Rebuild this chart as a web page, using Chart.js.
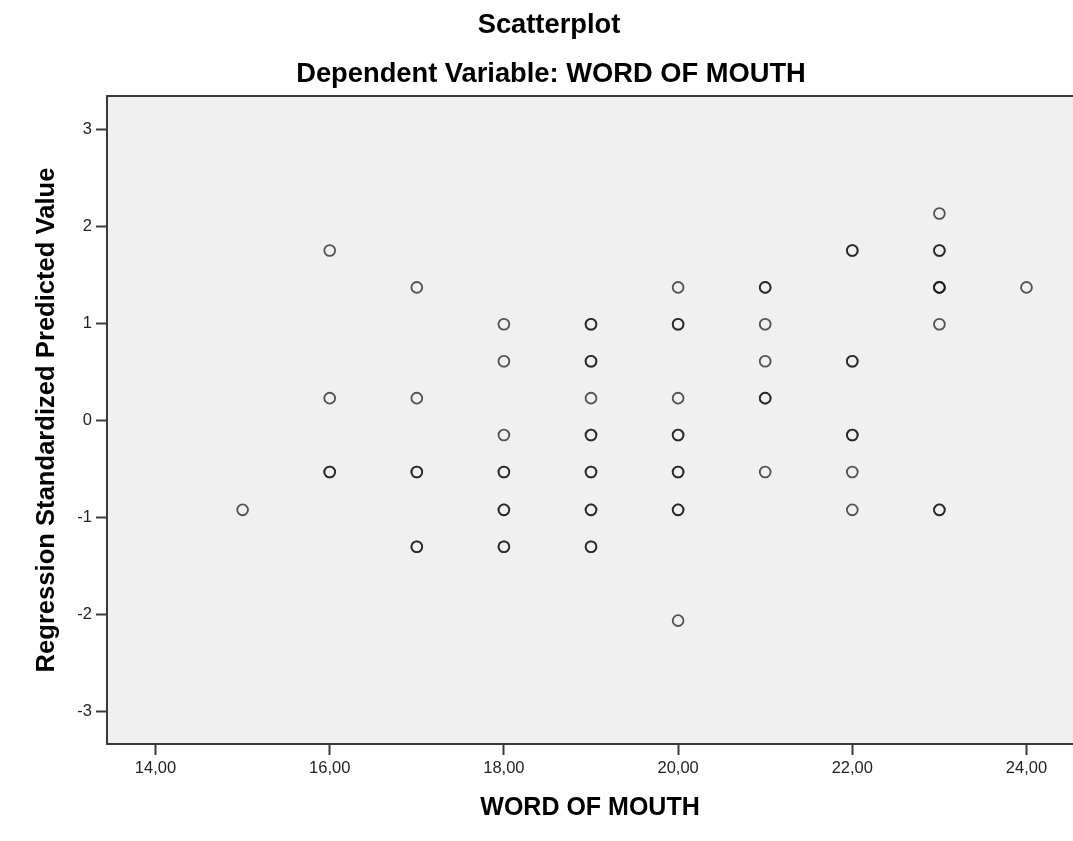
<!DOCTYPE html>
<html>
<head>
<meta charset="utf-8">
<script src="https://cdn.jsdelivr.net/npm/chart.js@4/dist/chart.umd.min.js"></script>
<style>
  html, body { margin: 0; padding: 0; background: #ffffff; overflow: hidden; }
  #wrap { position: relative; width: 1073px; height: 841px; }
</style>
</head>
<body>
<div id="wrap"><canvas id="c" width="1073" height="841"></canvas></div>
<script>
// ---- Data ----
const chartTitle = 'Scatterplot';
const chartSubtitle = 'Dependent Variable: WORD OF MOUTH';
const xAxisTitle = 'WORD OF MOUTH';
const yAxisTitle = 'Regression Standardized Predicted Value';

// Word of mouth score (x) paired with the regression standardized predicted value (y).
// Repeated pairs are overlapping cases (drawn darker in the reference).
const wordOfMouth = [
  15,
  16, 16, 16, 16,
  17, 17, 17, 17, 17, 17,
  18, 18, 18, 18, 18, 18, 18, 18, 18,
  19, 19, 19, 19, 19, 19, 19, 19, 19, 19, 19, 19, 19,
  20, 20, 20, 20, 20, 20, 20, 20, 20, 20, 20,
  21, 21, 21, 21, 21, 21, 21,
  22, 22, 22, 22, 22, 22, 22, 22,
  23, 23, 23, 23, 23, 23, 23, 23, 23,
  24
];
const predictedValue = [
  -0.92,
  1.75, 0.23, -0.53, -0.53,
  1.37, 0.23, -0.53, -0.53, -1.30, -1.30,
  0.99, 0.61, -0.15, -0.53, -0.53, -0.92, -0.92, -1.30, -1.30,
  0.99, 0.99, 0.61, 0.61, 0.23, -0.15, -0.15, -0.53, -0.53, -0.92, -0.92, -1.30, -1.30,
  1.37, 0.99, 0.99, 0.23, -0.15, -0.15, -0.53, -0.53, -0.92, -0.92, -2.06,
  1.37, 1.37, 0.99, 0.61, 0.23, 0.23, -0.53,
  1.75, 1.75, 0.61, 0.61, -0.15, -0.15, -0.53, -0.92,
  2.13, 1.75, 1.75, 1.37, 1.37, 1.37, 0.99, -0.92, -0.92,
  1.37
];

const xTickValues = [14, 16, 18, 20, 22, 24];
const xTickLabels = ['14,00', '16,00', '18,00', '20,00', '22,00', '24,00'];
const yTickValues = [-3, -2, -1, 0, 1, 2, 3];
const yTickLabels = ['-3', '-2', '-1', '0', '1', '2', '3'];

// ---- Chart ----
const FONT = '"Liberation Sans", Arial, Helvetica, sans-serif';

const plotDecor = {
  id: 'plotDecor',
  beforeDraw(chart) {
    const { ctx, chartArea: a } = chart;
    ctx.save();
    ctx.fillStyle = '#f0f0f0';
    ctx.fillRect(a.left, a.top, a.right - a.left, a.bottom - a.top);
    ctx.restore();
  },
  afterDraw(chart) {
    const { ctx, chartArea: a } = chart;
    ctx.save();
    // top frame line
    ctx.strokeStyle = '#3a3a3a';
    ctx.lineWidth = 2;
    ctx.beginPath();
    ctx.moveTo(a.left - 1, a.top);
    ctx.lineTo(a.right, a.top);
    ctx.stroke();
    // titles
    ctx.fillStyle = '#000';
    ctx.textAlign = 'center';
    ctx.textBaseline = 'middle';
    ctx.font = 'bold 27.3px ' + FONT;
    ctx.fillText(chartTitle, 549, 25);
    ctx.fillText(chartSubtitle, 551, 74);
    ctx.restore();
  }
};

const points = wordOfMouth.map((x, i) => ({ x: x, y: predictedValue[i] }));

new Chart(document.getElementById('c'), {
  type: 'scatter',
  data: {
    datasets: [{
      data: points,
      pointStyle: 'circle',
      pointRadius: 5.4,
      pointHoverRadius: 5.4,
      pointBorderWidth: 1.8,
      borderColor: 'rgba(25,25,25,0.74)',
      backgroundColor: 'rgba(0,0,0,0)'
    }]
  },
  options: {
    responsive: false,
    animation: false,
    events: [],
    layout: { autoPadding: false, padding: { left: 0, right: 0, top: 96, bottom: 0 } },
    plugins: {
      legend: { display: false },
      tooltip: { enabled: false },
      title: { display: false },
      subtitle: { display: false }
    },
    scales: {
      x: {
        type: 'linear',
        position: 'bottom',
        min: 13.443,
        max: 24.534,
        afterFit(scale) { scale.height = 97; scale.paddingLeft = 0; scale.paddingRight = 0; },
        afterBuildTicks(scale) { scale.ticks = xTickValues.map(v => ({ value: v })); },
        ticks: {
          color: '#222',
          font: { family: FONT, size: 16.5 },
          padding: 4,
          maxRotation: 0,
          callback: (v) => { const i = xTickValues.indexOf(v); return i >= 0 ? xTickLabels[i] : ''; }
        },
        grid: {
          drawOnChartArea: false,
          drawTicks: true,
          tickLength: 11,
          tickWidth: 2,
          tickColor: '#3a3a3a'
        },
        border: { display: true, color: '#3a3a3a', width: 2 },
        title: {
          display: true,
          text: xAxisTitle,
          color: '#000',
          font: { family: FONT, size: 25, weight: 'bold', lineHeight: 1.2 },
          padding: { top: 0, bottom: 18 }
        }
      },
      y: {
        type: 'linear',
        position: 'left',
        min: -3.33,
        max: 3.34,
        afterFit(scale) { scale.width = 107; scale.paddingTop = 0; scale.paddingBottom = 0; },
        afterBuildTicks(scale) { scale.ticks = yTickValues.map(v => ({ value: v })); },
        ticks: {
          color: '#222',
          font: { family: FONT, size: 16.5 },
          padding: 4,
          callback: (v) => { const i = yTickValues.indexOf(v); return i >= 0 ? yTickLabels[i] : ''; }
        },
        grid: {
          drawOnChartArea: false,
          drawTicks: true,
          tickLength: 11,
          tickWidth: 2,
          tickColor: '#3a3a3a'
        },
        border: { display: true, color: '#3a3a3a', width: 2 },
        title: {
          display: true,
          text: yAxisTitle,
          color: '#000',
          font: { family: FONT, size: 25.6, weight: 'bold', lineHeight: 1.2 },
          padding: { top: 31.6, bottom: 0 }
        }
      }
    }
  },
  plugins: [plotDecor]
});
</script>
</body>
</html>
